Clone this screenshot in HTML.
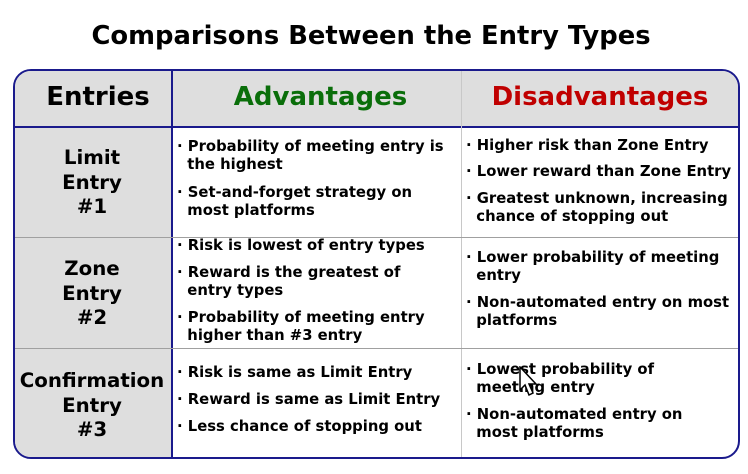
<!DOCTYPE html>
<html><head><meta charset="utf-8"><style>
body{margin:0;width:748px;height:474px;background:#fff;position:relative;overflow:hidden;font-family:"DejaVu Sans","Liberation Sans",sans-serif;font-weight:bold;color:#000}
.a{position:absolute;white-space:nowrap}
.t{font-size:14.8px;line-height:18px}
.c{font-size:19.8px;line-height:24.5px;text-align:center;width:158px;left:13px}
.h{font-size:26px;text-align:center}
</style></head><body>
<div class="a" style="left:0;width:742px;text-align:center;top:21px;font-size:25.8px">Comparisons Between the Entry Types</div>
<div class="a" style="left:13px;top:69px;width:727px;height:390px;border:2px solid #1a1a8c;border-radius:18px;box-sizing:border-box;overflow:hidden">
 <div class="a" style="left:0;top:0;width:727px;height:56px;background:#dedede"></div>
 <div class="a" style="left:0;top:56px;width:157px;height:340px;background:#dedede"></div>
 <div class="a" style="left:0;top:55px;width:727px;height:2px;background:#1a1a8c"></div>
 <div class="a" style="left:156px;top:0;width:2px;height:390px;background:#1a1a8c"></div>
 <div class="a" style="left:446px;top:0;width:1px;height:390px;background:#c8c8c8"></div>
 <div class="a" style="left:0;top:166px;width:727px;height:1px;background:#a0a0a0"></div>
 <div class="a" style="left:0;top:277px;width:727px;height:1px;background:#a0a0a0"></div>
</div>
<div class="a h" style="left:13px;width:170px;top:82px">Entries</div>
<div class="a h" style="left:171px;width:299px;top:82px;color:#0a6e0a">Advantages</div>
<div class="a h" style="left:460px;width:280px;top:82px;color:#c00000">Disadvantages</div>

<div class="a c" style="top:146px">Limit<br>Entry<br>#1</div>
<div class="a c" style="top:257px">Zone<br>Entry<br>#2</div>
<div class="a c" style="top:369px">Confirmation<br>Entry<br>#3</div>

<div class="a t" style="left:177px;top:138px">· Probability of meeting entry is<br>&nbsp;&nbsp;the highest</div>
<div class="a t" style="left:177px;top:184px">· Set-and-forget strategy on<br>&nbsp;&nbsp;most platforms</div>
<div class="a t" style="left:466px;top:137px">· Higher risk than Zone Entry</div>
<div class="a t" style="left:466px;top:163px">· Lower reward than Zone Entry</div>
<div class="a t" style="left:466px;top:190px">· Greatest unknown, increasing<br>&nbsp;&nbsp;chance of stopping out</div>

<div class="a t" style="left:177px;top:237px">· Risk is lowest of entry types</div>
<div class="a t" style="left:177px;top:264px">· Reward is the greatest of<br>&nbsp;&nbsp;entry types</div>
<div class="a t" style="left:177px;top:309px">· Probability of meeting entry<br>&nbsp;&nbsp;higher than #3 entry</div>
<div class="a t" style="left:466px;top:249px">· Lower probability of meeting<br>&nbsp;&nbsp;entry</div>
<div class="a t" style="left:466px;top:294px">· Non-automated entry on most<br>&nbsp;&nbsp;platforms</div>

<div class="a t" style="left:177px;top:364px">· Risk is same as Limit Entry</div>
<div class="a t" style="left:177px;top:391px">· Reward is same as Limit Entry</div>
<div class="a t" style="left:177px;top:418px">· Less chance of stopping out</div>
<div class="a t" style="left:466px;top:361px">· Lowest probability of<br>&nbsp;&nbsp;meeting entry</div>
<div class="a t" style="left:466px;top:406px">· Non-automated entry on<br>&nbsp;&nbsp;most platforms</div>

<svg class="a" style="left:519px;top:366px" width="24" height="34" viewBox="0 0 24 34"><path d="M1 1 L1 24 L6 19 L10 29 L14 27 L10 18 L17 18 Z" fill="#fff" stroke="#000" stroke-width="1.5"/></svg>
</body></html>
